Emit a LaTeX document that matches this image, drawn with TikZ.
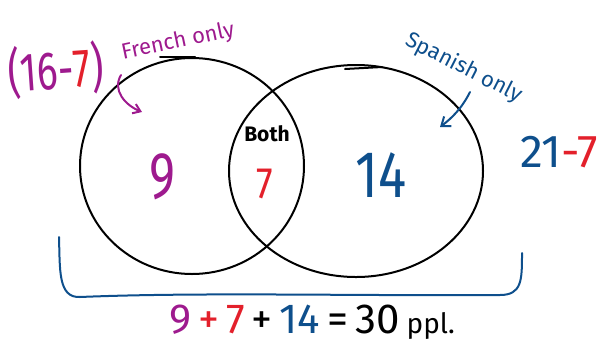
\documentclass[tikz,border=0pt]{standalone}
\usepackage{fontspec}
\setmainfont{Fira Sans}
\usetikzlibrary{arrows.meta,shapes.geometric}
\definecolor{fpurple}{HTML}{9E1A8E}
\definecolor{sblue}{HTML}{0E4F8C}
\definecolor{hred}{HTML}{E3202B}
\tikzset{
  setcirc/.style={ellipse, draw=black, line width=2pt, inner sep=0pt},
  hand/.style={line width=2pt, line cap=round, line join=round},
  lbl/.style={inner sep=0pt},
}
\newcommand{\fs}[1]{\fontsize{#1}{#1}\selectfont}
\begin{document}
\begin{tikzpicture}[x=1pt,y=-1pt]
\useasboundingbox (0,0) rectangle (599,349);
% circles
\node[setcirc, minimum width=224pt, minimum height=216pt] (F) at (192,166) {};
\node[setcirc, minimum width=254pt, minimum height=212pt] (S) at (356,171) {};
\draw[hand] (160,57) -- (195,57);
\draw[hand] (345,69) -- (382,67);
% labels
\node[lbl, fpurple, rotate=12] (french) at (178,42) {\fs{22}French only};
\node[lbl, rotate=4, xscale=0.72] (calc1) at (56,70) {\fs{54}\color{fpurple}(16-{\color{hred}7})};
\node[lbl, sblue, rotate=-27] (spanish) at (464,68) {\fs{22}Spanish only};
\node[lbl] (calc2) at (559,152) {\fs{46}\color{sblue}21{\color{hred}-7}};
\node[lbl, fpurple, xscale=0.75] (nine) at (162,177) {\fs{66}9};
\node[lbl] (both) at (267,134) {\fs{21}\bfseries Both};
\node[lbl, hred, xscale=0.85] (seven) at (265,184) {\fs{44}7};
\node[lbl, sblue, xscale=0.8] (fourteen) at (381,175) {\fs{66}14};
\node[lbl] (total) at (312,322) {\fs{42}{\color{fpurple}9}\,{\color{hred}+\,7}\,+\,{\color{sblue}14}\,=\,30\,{\fs{28}ppl.}};
% arrows
\coordinate (fa0) at (121,75);
\coordinate (fa1) at (142,112);
\draw[hand, fpurple, -{Straight Barb[length=7pt,width=10pt]}] (fa0) .. controls (112,90) and (125,105) .. (fa1);
\coordinate (sa0) at (470,92);
\coordinate (sa1) at (440,127);
\draw[hand, sblue, -{Straight Barb[length=8pt,width=12pt]}] (sa0) .. controls (462,108) and (452,118) .. (sa1);
% brace
\coordinate (b0) at (59,237);
\coordinate (b1) at (522,253);
\draw[hand, sblue] (b0) .. controls (60,270) and (58,298) .. (80,297)
  .. controls (200,292) and (350,296) .. (500,295)
  .. controls (522,295) and (522,280) .. (b1);
\end{tikzpicture}
\end{document}
